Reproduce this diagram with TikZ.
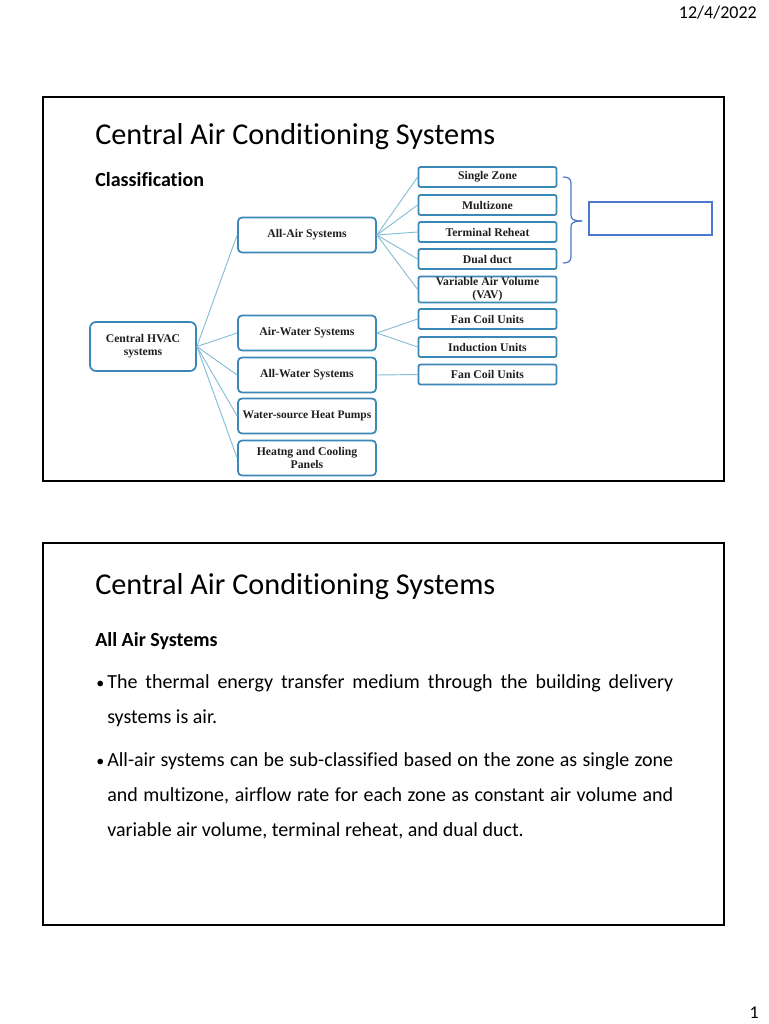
\documentclass[tikz,border=0pt]{standalone}
\usepackage{fontspec}
\usepackage{xcolor}
\setmainfont{Carlito}[Ligatures={NoCommon}]
\newfontfamily\diagfont{Liberation Serif}
\usetikzlibrary{positioning}
\definecolor{clrNode}{HTML}{3A88B6}
\definecolor{clrLink}{HTML}{86BED6}
\definecolor{clrBrace}{HTML}{4A78CF}

\begin{document}
\begin{tikzpicture}[
    x=0.75pt, y=-0.75pt,
    box/.style={rectangle, draw=clrNode, fill=white, line width=1.3pt, align=center, inner sep=1pt, font=\diagfont\bfseries\fontsize{8.8}{9.6}\selectfont, text=black!88},
    root/.style={box, minimum width=79.5pt, minimum height=36.75pt, rounded corners=4.5pt},
    group/.style={box, minimum width=103.5pt, minimum height=26.25pt, rounded corners=3pt},
    leaf/.style={box, minimum width=103.5pt, minimum height=15pt, rounded corners=1.5pt},
    note/.style={rectangle, draw=clrBrace, line width=0.9pt, minimum width=92.25pt, minimum height=24.75pt, inner sep=0pt},
    link/.style={line width=0.7pt, clrLink},
    frame/.style={draw=black, line width=1.1pt},
    title/.style={anchor=base west, inner sep=0pt, font=\fontsize{22.7}{27}\selectfont},
    heading/.style={anchor=base west, inner sep=0pt, font=\bfseries\fontsize{15}{18}\selectfont},
    dot/.style={anchor=base west, inner sep=0pt, font=\fontsize{12}{14}\selectfont},
    bullet/.style={anchor=base west, inner sep=0pt, text width=424.5pt, align=justify, font=\fontsize{15}{26.25}\selectfont},
    pagelbl/.style={anchor=base east, inner sep=0pt, font=\fontsize{13.5}{16}\selectfont},
]
\fill[white] (0,0) rectangle (768,1024);
\useasboundingbox (0,0) rectangle (768,1024);

\node[pagelbl] (date) at (757,19) {12/4/2022};
\node[pagelbl] (pageno) at (759,1018) {1};

% slide 1: classification
\draw[frame] (43,97) rectangle (724,481);
\node[title] (titleA) at (95,144) {Central Air Conditioning Systems};
\node[heading] (classif) at (95,186) {Classification};

\node[root] (hvac) at (143,346.5) {Central HVAC\\systems};

\node[group] (allair) at (307,235) {All-Air Systems};
\node[group] (airwater) at (307,333) {Air-Water Systems};
\node[group] (allwater) at (307,375) {All-Water Systems};
\node[group, font=\diagfont\bfseries\fontsize{8.6}{9.6}\selectfont] (wshp) at (307,416) {Water-source Heat Pumps};
\node[group] (panels) at (307,458) {Heatng and Cooling\\Panels};

\node[leaf] (single) at (487.5,177) {Single Zone};
\node[leaf] (multi) at (487.5,205) {Multizone};
\node[leaf] (reheat) at (487.5,232) {Terminal Reheat};
\node[leaf] (dual) at (487.5,259) {Dual duct};
\node[leaf, minimum height=18.75pt] (vav) at (487.5,289.5) {Variable Air Volume\\(VAV)};
\node[leaf] (fcuA) at (487.5,319) {Fan Coil Units};
\node[leaf] (induct) at (487.5,347) {Induction Units};
\node[leaf] (fcuB) at (487.5,374.5) {Fan Coil Units};

\draw[link] (hvac.east) -- (allair.west);
\draw[link] (hvac.east) -- (airwater.west);
\draw[link] (hvac.east) -- (allwater.west);
\draw[link] (hvac.east) -- (wshp.west);
\draw[link] (hvac.east) -- (panels.west);

\draw[link] (allair.east) -- (single.west);
\draw[link] (allair.east) -- (multi.west);
\draw[link] (allair.east) -- (reheat.west);
\draw[link] (allair.east) -- (dual.west);
\draw[link] (allair.east) -- (vav.west);
\draw[link] (airwater.east) -- (fcuA.west);
\draw[link] (airwater.east) -- (induct.west);
\draw[link] (allwater.east) -- (fcuB.west);

% brace grouping the first four, with the empty box
\coordinate (braceTop) at (563,177);
\coordinate (braceTip) at (582,221);
\coordinate (braceBot) at (563,263);
\draw[clrBrace, line width=0.9pt] (braceTop) .. controls (569,177) and (571,179) .. (571,184) -- (571,215) .. controls (571,219) and (573,221) .. (braceTip);
\draw[clrBrace, line width=0.9pt] (braceTip) .. controls (573,221) and (571,223) .. (571,227) -- (571,256) .. controls (571,261) and (569,263) .. (braceBot);
\node[note] (sumbox) at (650.5,218.5) {};

% slide 2: all air systems
\draw[frame] (43,543) rectangle (724,925);
\node[title] (titleB) at (95,594) {Central Air Conditioning Systems};
\node[heading] (allairhd) at (95,646) {All Air Systems};
\node[dot] (dotA) at (96,688) {\textbullet};
\node[bullet] (pointA) at (107,688) {The thermal energy transfer medium through the building delivery\linebreak systems is air.};
\node[dot] (dotB) at (96,766) {\textbullet};
\node[bullet] (pointB) at (107,766) {All-air systems can be sub-classified based on the zone as single zone\linebreak and multizone, airflow rate for each zone as constant air volume and\linebreak variable air volume, terminal reheat, and dual duct.};

\end{tikzpicture}
\end{document}
